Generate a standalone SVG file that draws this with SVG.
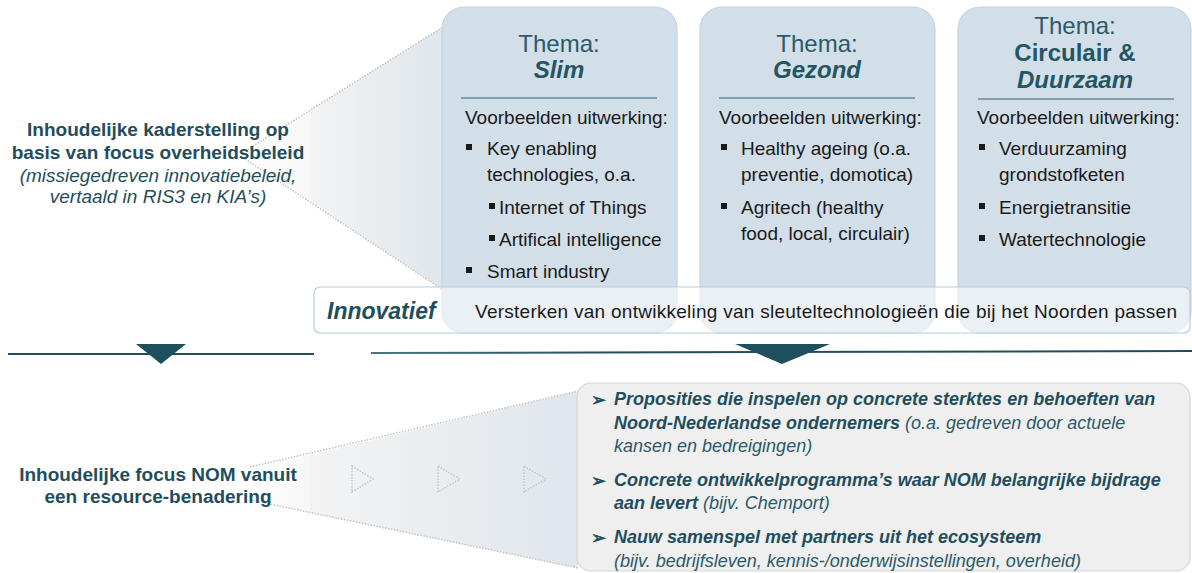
<svg xmlns="http://www.w3.org/2000/svg" width="1192" height="573" viewBox="0 0 1192 573">
<defs>
<style>
text{font-family:"Liberation Sans",Arial,sans-serif}
.lab{font-size:19px;font-weight:bold;fill:#1f4e5c;text-anchor:middle}
.labi{font-size:19px;font-style:italic;fill:#1f4e5c;text-anchor:middle}
.th{font-size:24px;fill:#2b5a68;text-anchor:middle}
.thb{font-size:24px;font-weight:bold;fill:#245563;text-anchor:middle}
.bd{font-size:19px;fill:#1a1a1a}
.box{fill:#d2dee8;stroke:#c2d4e2;stroke-width:1.2}
.hl{stroke:#7d9fb1;stroke-width:2}
.bul{fill:#1a1a1a}
.dot{stroke:#c4c4c4;stroke-width:1.5;stroke-dasharray:1.5 1.5;fill:none}
.bt{font-size:18px;font-style:italic;fill:#2b5a68}
.bb{font-weight:bold;fill:#1f4e5c}
.arr{font-family:"DejaVu Sans",sans-serif;font-size:18px;font-weight:bold;fill:#1f4e5c;stroke:#1f4e5c;stroke-width:0.6}
.dk{fill:#1f4e5c}
</style>
<linearGradient id="fun1" x1="0" y1="0" x2="1" y2="0">
<stop offset="0" stop-color="#f3f3f3"/><stop offset="1" stop-color="#dfe6ec"/>
</linearGradient>
<linearGradient id="fun0" x1="0" y1="0" x2="1" y2="0">
<stop offset="0" stop-color="#ffffff"/><stop offset="1" stop-color="#f7f7f7"/>
</linearGradient>
<linearGradient id="trf" x1="0" y1="0" x2="1" y2="0">
<stop offset="0" stop-color="#eef2f5"/><stop offset="1" stop-color="#b3cbdc"/>
</linearGradient>
<linearGradient id="rl" x1="0" y1="0" x2="1" y2="0">
<stop offset="0" stop-color="#4d7484"/><stop offset="0.3" stop-color="#1f4e5c"/><stop offset="1" stop-color="#1f4e5c"/>
</linearGradient>
</defs>

<!-- top funnel -->
<g id="funnel-top">
<polygon points="239,155 311,110 311,202" fill="url(#fun0)"/>
<polygon points="311,110 443,27 443,290 311,202" fill="url(#fun1)"/>
<line class="dot" x1="245" y1="151" x2="443" y2="27"/>
<line class="dot" x1="245" y1="159" x2="443" y2="290"/>
</g>

<!-- bottom funnel -->
<g id="funnel-bottom">
<polygon points="250,467 310,455 310,513 250,500" fill="url(#fun0)"/>
<polygon points="310,455 578,391 578,568 310,513" fill="url(#fun1)"/>
<line class="dot" x1="250" y1="467" x2="578" y2="391"/>
<line class="dot" x1="250" y1="500" x2="578" y2="568"/>
<polygon class="dot" points="352,466 373,479 352,492" fill="none"/>
<polygon class="dot" points="438,466 460,479 438,492" fill="url(#trf)"/>
<polygon class="dot" points="524,466 546,479 524,492" fill="url(#trf)"/>
</g>

<g id="label-top">
<text class="lab" x="158" y="136">Inhoudelijke kaderstelling op</text>
<text class="lab" x="158" y="159">basis van focus overheidsbeleid</text>
<text class="labi" x="158" y="182">(missiegedreven innovatiebeleid,</text>
<text class="labi" x="158" y="203">vertaald in RIS3 en KIA’s)</text>
</g>

<g id="thema-slim">
<rect class="box" x="442" y="7" width="235" height="326" rx="22"/>
<text class="th" x="559" y="52">Thema:</text>
<text class="thb" x="559" y="78" font-style="italic">Slim</text>
<line class="hl" x1="461" y1="98" x2="657" y2="98"/>
<text class="bd" x="465" y="124">Voorbeelden uitwerking:</text>
<rect class="bul" x="466" y="144" width="6" height="6"/>
<text class="bd" x="487" y="155">Key enabling</text>
<text class="bd" x="487" y="181">technologies, o.a.</text>
<rect class="bul" x="489" y="203" width="6" height="6"/>
<text class="bd" x="499" y="214">Internet of Things</text>
<rect class="bul" x="489" y="235" width="6" height="6"/>
<text class="bd" x="499" y="246">Artifical intelligence</text>
<rect class="bul" x="466" y="267" width="6" height="6"/>
<text class="bd" x="487" y="278">Smart industry</text>
</g>

<g id="thema-gezond">
<rect class="box" x="700" y="7" width="235" height="326" rx="22"/>
<text class="th" x="817" y="52">Thema:</text>
<text class="thb" x="817" y="78" font-style="italic">Gezond</text>
<line class="hl" x1="719" y1="98" x2="915" y2="98"/>
<text class="bd" x="719" y="124">Voorbeelden uitwerking:</text>
<rect class="bul" x="721" y="144" width="6" height="6"/>
<text class="bd" x="741" y="155">Healthy ageing (o.a.</text>
<text class="bd" x="741" y="181">preventie, domotica)</text>
<rect class="bul" x="721" y="203" width="6" height="6"/>
<text class="bd" x="741" y="214">Agritech (healthy</text>
<text class="bd" x="741" y="240">food, local, circulair)</text>
</g>

<g id="thema-circulair">
<rect class="box" x="958" y="7" width="233" height="326" rx="22"/>
<text class="th" x="1075" y="34">Thema:</text>
<text class="thb" x="1075" y="61">Circulair &amp;</text>
<text class="thb" x="1075" y="88" font-style="italic">Duurzaam</text>
<line class="hl" x1="978" y1="99" x2="1174" y2="99"/>
<text class="bd" x="977" y="124">Voorbeelden uitwerking:</text>
<rect class="bul" x="979" y="144" width="6" height="6"/>
<text class="bd" x="999" y="155">Verduurzaming</text>
<text class="bd" x="999" y="181">grondstofketen</text>
<rect class="bul" x="979" y="203" width="6" height="6"/>
<text class="bd" x="999" y="214">Energietransitie</text>
<rect class="bul" x="979" y="235" width="6" height="6"/>
<text class="bd" x="999" y="246">Watertechnologie</text>
</g>

<g id="innovatief">
<rect x="314" y="287" width="876" height="46" rx="6" fill="#ffffff" fill-opacity="0.55" stroke="#b8cde0" stroke-width="1.2"/>
<text x="327" y="319" font-size="23px" font-weight="bold" font-style="italic" fill="#1f4e5c">Innovatief</text>
<text class="bd" x="475" y="318" font-size="18px" textLength="702" lengthAdjust="spacing">Versterken van ontwikkeling van sleuteltechnologieën die bij het Noorden passen</text>
</g>

<g id="connectors">
<line x1="8" y1="354" x2="314" y2="354" stroke="#1f4e5c" stroke-width="2"/>
<polygon class="dk" points="136,344 186,344 161,364"/>
<line x1="371" y1="353" x2="1192" y2="351" stroke="url(#rl)" stroke-width="2"/>
<polygon class="dk" points="735,344 830,344 782,364"/>
</g>

<g id="label-bottom">
<text class="lab" x="158" y="481">Inhoudelijke focus NOM vanuit</text>
<text class="lab" x="158" y="503">een resource-benadering</text>
</g>

<g id="focus-box">
<rect x="577" y="383" width="613" height="188" rx="14" fill="#efefef" stroke="#d6d6d6" stroke-width="1.2"/>
<text class="arr" x="591" y="406">➢</text>
<text class="bt" x="614" y="405"><tspan class="bb">Proposities die inspelen op concrete sterktes en behoeften van</tspan></text>
<text class="bt" x="614" y="429"><tspan class="bb">Noord-Nederlandse ondernemers</tspan> (o.a. gedreven door actuele</text>
<text class="bt" x="614" y="452">kansen en bedreigingen)</text>
<text class="arr" x="591" y="487">➢</text>
<text class="bt" x="614" y="486"><tspan class="bb">Concrete ontwikkelprogramma’s waar NOM belangrijke bijdrage</tspan></text>
<text class="bt" x="614" y="509"><tspan class="bb">aan levert</tspan> (bijv. Chemport)</text>
<text class="arr" x="591" y="544">➢</text>
<text class="bt" x="614" y="543"><tspan class="bb">Nauw samenspel met partners uit het ecosysteem</tspan></text>
<text class="bt" x="614" y="567">(bijv. bedrijfsleven, kennis-/onderwijsinstellingen, overheid)</text>
</g>
</svg>
